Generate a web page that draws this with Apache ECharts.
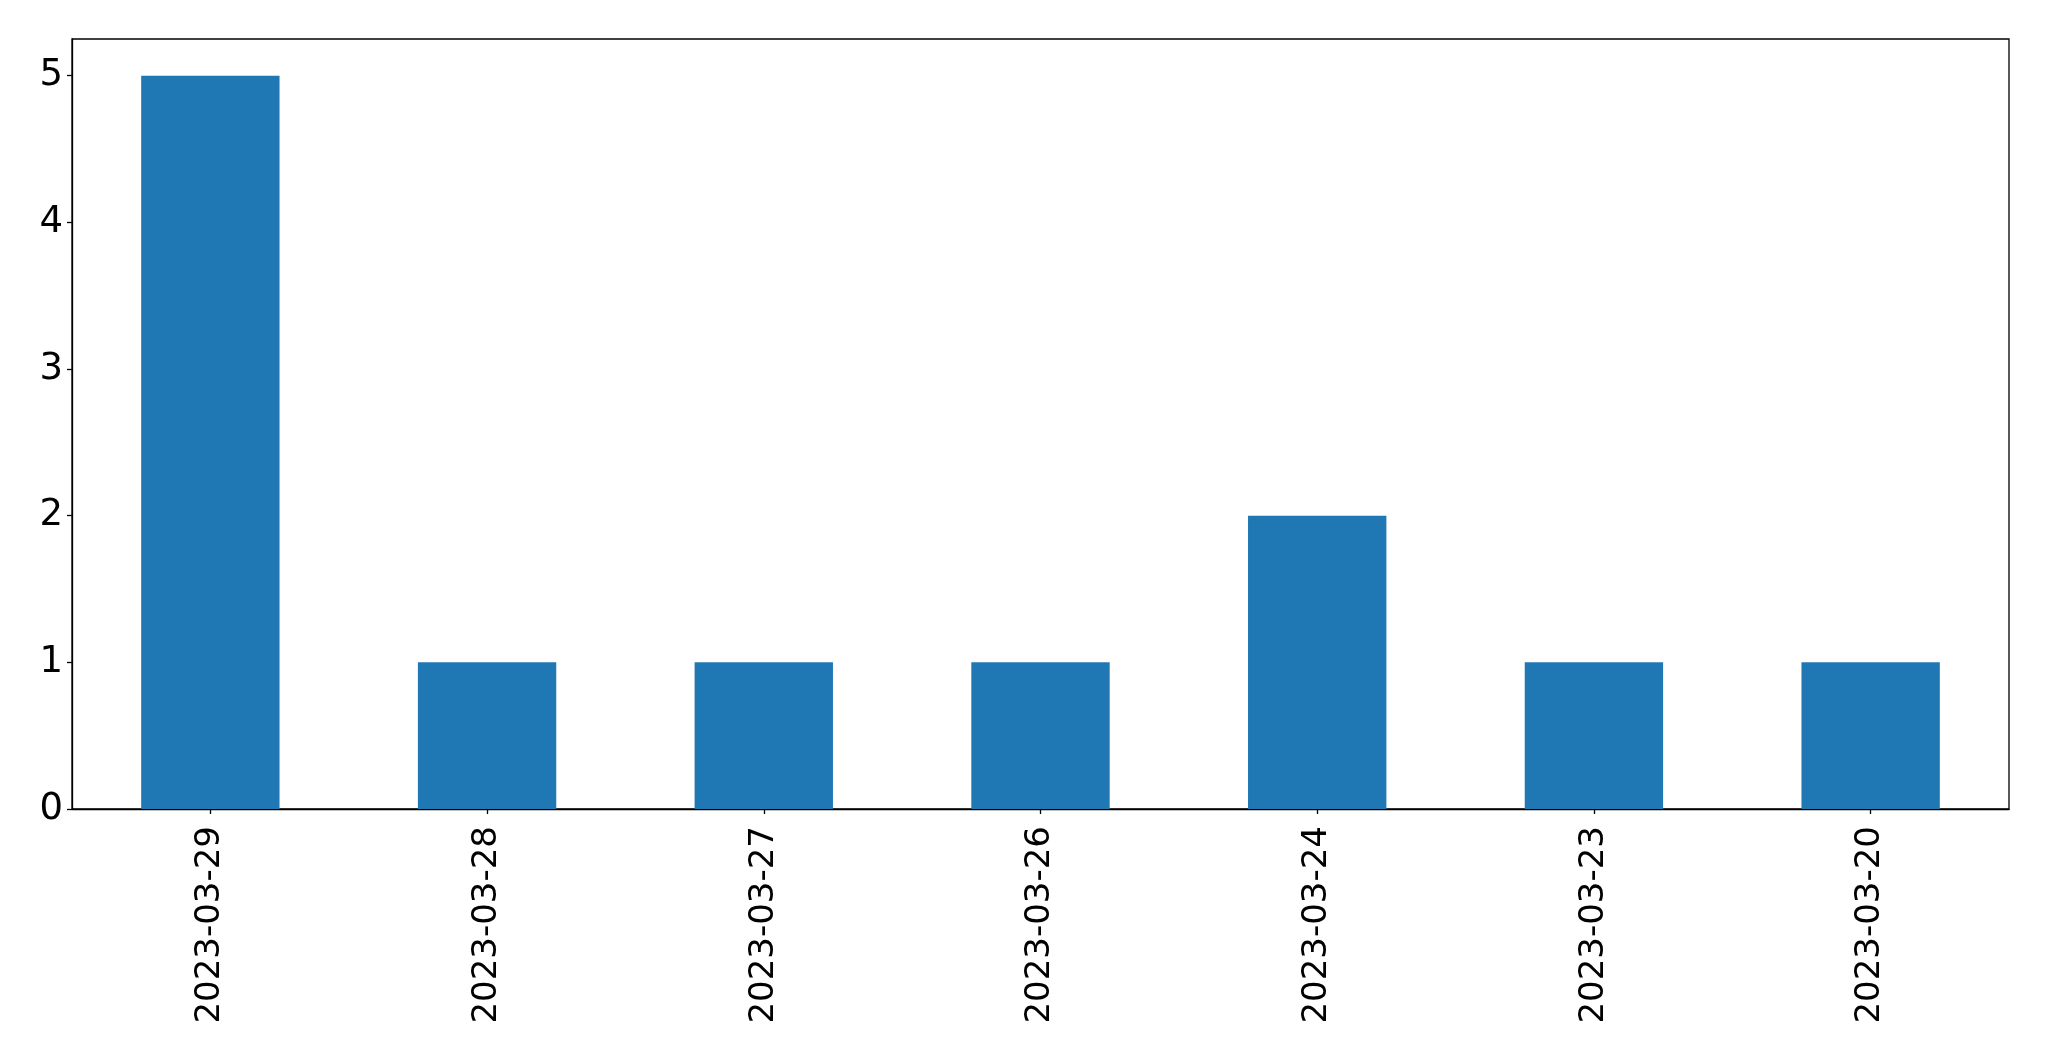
<!DOCTYPE html>
<html>
<head>
<meta charset="utf-8">
<script src="https://cdn.jsdelivr.net/npm/echarts@6/dist/echarts.min.js"></script>
<style>
html,body{margin:0;padding:0;background:#fff;}
#chart{width:2049px;height:1061px;}
</style>
</head>
<body>
<div id="chart"></div>
<script>
const categories = ['2023-03-29','2023-03-28','2023-03-27','2023-03-26','2023-03-24','2023-03-23','2023-03-20'];
const values = [5, 1, 1, 1, 2, 1, 1];
const yTicks = [0, 1, 2, 3, 4, 5];

const chart = echarts.init(document.getElementById('chart'));
const font = 'DejaVu Sans';
chart.setOption({
  animation: false,
  grid: {
    left: 72, top: 39, right: 40, bottom: 252,
    show: true, borderColor: '#000', borderWidth: 1.3, backgroundColor: 'transparent'
  },
  xAxis: {
    type: 'category',
    data: categories,
    boundaryGap: true,
    axisLine: {show: true, lineStyle: {color: '#000', width: 1.3}},
    axisTick: {show: true, alignWithLabel: true, length: 5, lineStyle: {color: '#000', width: 1.3}},
    axisLabel: {rotate: 90, fontFamily: font, fontSize: 34, color: '#000', margin: 17, interval: 0}
  },
  yAxis: {
    type: 'value',
    min: 0, max: 5.25, interval: 1,
    splitLine: {show: false},
    axisLine: {show: true, lineStyle: {color: '#000', width: 1.3}},
    axisTick: {show: true, length: 5, lineStyle: {color: '#000', width: 1.3}},
    axisLabel: {
      fontFamily: font, fontSize: 37, color: '#000', margin: 9, showMaxLabel: false,
      formatter: function (v) { return yTicks.indexOf(v) >= 0 ? String(v) : ''; }
    }
  },
  series: [{
    type: 'bar',
    data: values,
    barWidth: '50%',
    itemStyle: {color: '#1f77b4'}
  }]
});
</script>
</body>
</html>
